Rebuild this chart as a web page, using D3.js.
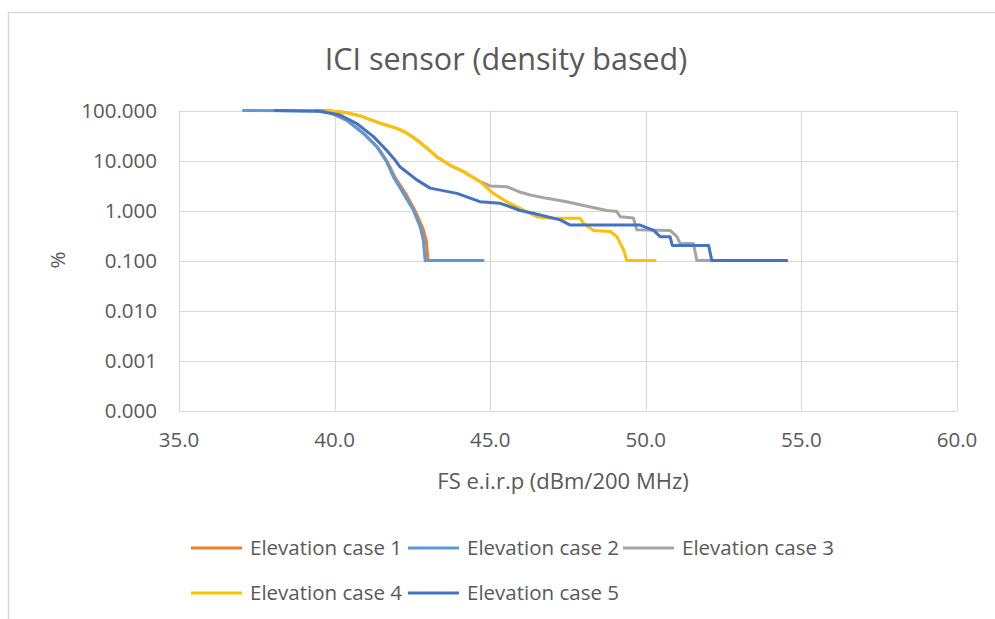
<!DOCTYPE html>
<html>
<head>
<meta charset="utf-8">
<script src="https://cdn.jsdelivr.net/npm/d3@7"></script>
<style>
  body { margin: 0; background: #fff; }
  text { font-family: "Open Sans", sans-serif; fill: #595959; }
</style>
</head>
<body>
<div id="chart"></div>
<script>
// values
const seriesNames = ["Elevation case 1", "Elevation case 2", "Elevation case 3", "Elevation case 4", "Elevation case 5"];
const seriesColors = ["#ED7D31", "#5B9BD5", "#A5A5A5", "#FFC000", "#4472C4"];

const case1X = [39.4, 39.75, 40.4, 40.95, 41.4, 41.7, 41.95, 42.3, 42.6, 42.85, 42.95, 43.0];
const case1Y = [100, 97, 63, 34, 18, 9.3, 4.5, 2.1, 0.95, 0.42, 0.24, 0.1];

const case2X = [37.07, 39.75, 40.39, 40.92, 41.35, 41.67, 41.89, 42.21, 42.53, 42.75, 42.85, 42.91, 44.77];
const case2Y = [100, 98, 64.6, 35, 18.9, 9.5, 4.7, 2.2, 1.02, 0.47, 0.26, 0.1, 0.1];

const case3X = [39.7, 40.3, 40.8, 41.46, 42.0, 42.3, 42.64, 42.96, 43.28, 43.7, 44.14, 44.67, 45.0, 45.53, 45.9, 46.28, 46.82, 47.46, 47.89, 48.75, 49.07, 49.18, 49.6, 49.71, 50.78, 51.0, 51.1, 51.53, 51.64, 52.1];
const case3Y = [100, 92, 79, 56, 44, 36, 26, 17.8, 11.9, 8.1, 6, 3.8, 3.1, 3.0, 2.4, 2.04, 1.75, 1.5, 1.3, 1.0, 0.95, 0.75, 0.71, 0.41, 0.4, 0.3, 0.22, 0.22, 0.1, 0.1];

const case4X = [39.75, 40.3, 40.8, 41.46, 42.0, 42.3, 42.64, 42.96, 43.28, 43.7, 44.14, 44.67, 45.1, 45.53, 45.96, 46.5, 46.93, 47.89, 48.0, 48.32, 48.86, 49.07, 49.29, 49.39, 50.3];
const case4Y = [100, 92, 79, 56, 44, 36, 26, 17.8, 11.9, 8.1, 6, 3.8, 2.2, 1.5, 1.1, 0.75, 0.7, 0.7, 0.55, 0.4, 0.38, 0.3, 0.16, 0.1, 0.1];

const case5X = [38.09, 39.5, 40.18, 40.71, 41.25, 41.67, 41.9, 42.1, 42.64, 43.07, 43.93, 44.67, 45.32, 45.64, 45.96, 46.38, 47.25, 47.57, 49.82, 50.25, 50.46, 50.78, 50.85, 52.02, 52.12, 54.53];
const case5Y = [100, 97, 81, 55, 30, 16, 11, 7.5, 4.1, 2.8, 2.2, 1.5, 1.39, 1.19, 1.0, 0.88, 0.65, 0.51, 0.51, 0.4, 0.3, 0.3, 0.2, 0.2, 0.1, 0.1];

const xTicks = [35, 40, 45, 50, 55, 60];
const yTicks = [100, 10, 1, 0.1, 0.01, 0.001, 0.0001];

const allX = [case1X, case2X, case3X, case4X, case5X];
const allY = [case1Y, case2Y, case3Y, case4Y, case5Y];
const series = seriesNames.map((name, i) => ({
  name,
  color: seriesColors[i],
  points: allX[i].map((x, j) => [x, allY[i][j]])
}));

const width = 995, height = 619;
const plot = { left: 179, right: 957, top: 110.5, bottom: 410.5 };

const svg = d3.select('#chart').append('svg')
  .attr('width', width)
  .attr('height', height);

// outer chart frame (cut off on right/bottom like the screenshot)
svg.append('rect')
  .attr('x', 8.5).attr('y', 12.5)
  .attr('width', 1000).attr('height', 700)
  .attr('fill', 'none')
  .attr('stroke', '#d9d9d9')
  .attr('stroke-width', 1.5);

const x = d3.scaleLinear().domain([35, 60]).range([plot.left, plot.right]);
const y = d3.scaleLog().domain([0.0001, 100]).range([plot.bottom, plot.top]);

// gridlines
svg.append('g')
  .selectAll('line.h')
  .data(yTicks)
  .enter().append('line')
    .attr('x1', plot.left).attr('x2', plot.right)
    .attr('y1', d => Math.round(y(d)) + 0.5).attr('y2', d => Math.round(y(d)) + 0.5)
    .attr('stroke', '#d9d9d9').attr('stroke-width', 1.2);

svg.append('g')
  .selectAll('line.v')
  .data(xTicks)
  .enter().append('line')
    .attr('x1', d => Math.round(x(d)) + 0.5).attr('x2', d => Math.round(x(d)) + 0.5)
    .attr('y1', plot.top).attr('y2', plot.bottom)
    .attr('stroke', '#d9d9d9').attr('stroke-width', 1.2);

// tick labels
svg.append('g')
  .selectAll('text')
  .data(yTicks)
  .enter().append('text')
    .attr('x', 157)
    .attr('y', d => y(d))
    .attr('dy', '0.36em')
    .attr('text-anchor', 'end')
    .style('font-size', '20.5px')
    .text(d => d3.format('.3f')(d));

svg.append('g')
  .selectAll('text')
  .data(xTicks)
  .enter().append('text')
    .attr('x', d => x(d))
    .attr('y', 447)
    .attr('text-anchor', 'middle')
    .style('font-size', '20.5px')
    .text(d => d3.format('.1f')(d));

// titles
svg.append('text')
  .attr('x', 506).attr('y', 70)
  .attr('text-anchor', 'middle')
  .style('font-size', '30.5px')
  .text('ICI sensor (density based)');

svg.append('text')
  .attr('x', 563).attr('y', 489)
  .attr('text-anchor', 'middle')
  .style('font-size', '22px')
  .text('FS e.i.r.p (dBm/200 MHz)');

svg.append('text')
  .attr('transform', 'translate(65,260) rotate(-90)')
  .attr('text-anchor', 'middle')
  .style('font-size', '20.5px')
  .text('%');

// series lines
const line = d3.line()
  .x(d => x(d[0]))
  .y(d => y(d[1]));

svg.append('g')
  .selectAll('path')
  .data(series)
  .enter().append('path')
    .attr('d', d => line(d.points))
    .attr('fill', 'none')
    .attr('stroke', d => d.color)
    .attr('stroke-width', 3)
    .attr('stroke-linejoin', 'round')
    .attr('stroke-linecap', 'round');

// legend, two rows
const legendPos = [[191, 548], [408, 548], [623, 548], [191, 593], [408, 593]];
const legend = svg.append('g')
  .selectAll('g')
  .data(series)
  .enter().append('g')
    .attr('transform', (d, i) => `translate(${legendPos[i][0]},${legendPos[i][1]})`);

legend.append('line')
  .attr('x1', 0).attr('x2', 51)
  .attr('y1', 0).attr('y2', 0)
  .attr('stroke', d => d.color)
  .attr('stroke-width', 3);

legend.append('text')
  .attr('x', 59)
  .attr('y', 0)
  .attr('dy', '0.35em')
  .style('font-size', '20.5px')
  .text(d => d.name);
</script>
</body>
</html>
